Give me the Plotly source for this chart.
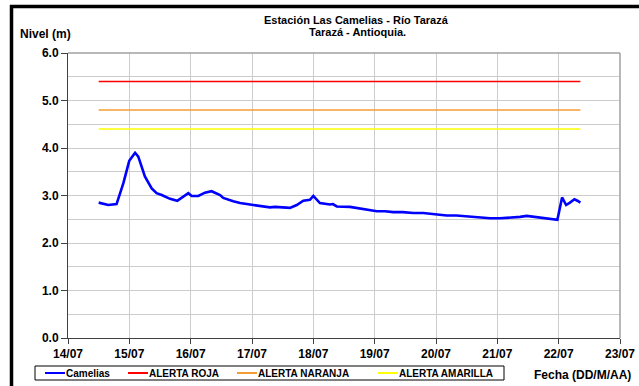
import plotly.graph_objects as go

# Water level readings, station Las Camelias (Río Tarazá)
times = [
    "2010-07-14 12:00", "2010-07-14 15:45", "2010-07-14 19:00", "2010-07-14 21:40",
    "2010-07-14 23:58", "2010-07-15 02:15", "2010-07-15 03:30", "2010-07-15 06:05",
    "2010-07-15 08:45", "2010-07-15 10:40", "2010-07-15 12:40", "2010-07-15 15:55",
    "2010-07-15 18:45", "2010-07-15 21:05", "2010-07-15 23:05", "2010-07-16 00:25",
    "2010-07-16 03:00", "2010-07-16 05:35", "2010-07-16 08:10", "2010-07-16 11:30",
    "2010-07-16 12:45", "2010-07-16 16:40", "2010-07-16 19:20", "2010-07-17 00:30",
    "2010-07-17 07:00", "2010-07-17 09:00", "2010-07-17 11:00", "2010-07-17 14:50",
    "2010-07-17 17:30", "2010-07-17 20:05", "2010-07-17 22:40", "2010-07-18 00:00",
    "2010-07-18 02:35", "2010-07-18 06:30", "2010-07-18 07:40", "2010-07-18 09:10",
    "2010-07-18 14:20", "2010-07-18 19:35", "2010-07-19 00:50", "2010-07-19 04:00",
    "2010-07-19 07:20", "2010-07-19 11:00", "2010-07-19 15:05", "2010-07-19 19:00",
    "2010-07-19 23:00", "2010-07-20 02:50", "2010-07-20 04:10", "2010-07-20 08:00",
    "2010-07-20 12:00", "2010-07-20 14:30", "2010-07-20 17:15", "2010-07-20 21:10",
    "2010-07-21 01:00", "2010-07-21 06:15", "2010-07-21 08:55", "2010-07-21 11:30",
    "2010-07-21 14:05", "2010-07-21 18:00", "2010-07-21 23:30", "2010-07-22 01:20",
    "2010-07-22 02:55", "2010-07-22 04:25", "2010-07-22 06:10", "2010-07-22 07:20",
    "2010-07-22 08:30",
]
nivel = [
    2.85, 2.80, 2.82, 3.26,
    3.73, 3.90, 3.82, 3.40,
    3.15, 3.05, 3.01, 2.93,
    2.89, 2.97, 3.05, 2.99,
    2.99, 3.06, 3.09, 3.01,
    2.95, 2.88, 2.84, 2.80,
    2.75, 2.76, 2.75, 2.74,
    2.80, 2.89, 2.91, 2.99,
    2.84, 2.81, 2.82, 2.77,
    2.76, 2.71, 2.67, 2.67,
    2.65, 2.65, 2.63, 2.63,
    2.61, 2.60, 2.58, 2.58,
    2.56, 2.56, 2.54, 2.52,
    2.52, 2.53, 2.55, 2.57,
    2.55, 2.52, 2.49, 2.96,
    2.80, 2.85, 2.92, 2.89,
    2.85,
]
series_name = "Camelias"
series_color = "#0000ff"

# Alert thresholds (m)
alert_span = ["2010-07-14 12:00", "2010-07-22 08:30"]
alert_names = ["ALERTA ROJA", "ALERTA NARANJA", "ALERTA AMARILLA"]
alert_levels = [5.4, 4.8, 4.4]
alert_colors = ["#ff0000", "#f39c34", "#ffff00"]

x_range = ["2010-07-14", "2010-07-23"]
y_range = [0, 6]

FONT = "Liberation Sans, Arial, sans-serif"

fig = go.Figure()
fig.add_trace(go.Scatter(
    x=times, y=nivel, mode="lines", name=series_name,
    line=dict(color=series_color, width=2.6),
))
for name, lvl, col in zip(alert_names, alert_levels, alert_colors):
    fig.add_trace(go.Scatter(
        x=alert_span, y=[lvl, lvl], mode="lines", name=name,
        line=dict(color=col, width=1.6),
    ))

# plot area: 68..620 px horizontally, 53..338 px vertically
L, R, T, B = 68, 19, 53, 48
W, H = 639, 386
pw, ph = W - L - R, H - T - B


def px(xp):
    return (xp - L) / pw


def py(yp):
    return (H - B - yp) / ph


tick_font = dict(family=FONT, size=12, color="#000000", weight="bold")
bold = lambda s: dict(family=FONT, size=s, color="#000000", weight="bold")

shapes = [
    # light frame on top and right of the plot area
    dict(type="line", xref="paper", yref="paper", x0=0, x1=1, y0=1, y1=1,
         line=dict(color="#a0a0a0", width=1.5)),
    dict(type="line", xref="paper", yref="paper", x0=1, x1=1, y0=0, y1=1,
         line=dict(color="#a0a0a0", width=1.5)),
    # heavy chart border (top and left)
    dict(type="line", xref="paper", yref="paper", x0=px(10), x1=px(645),
         y0=py(6.5), y1=py(6.5), line=dict(color="#000000", width=3.5)),
    dict(type="line", xref="paper", yref="paper", x0=px(11.5), x1=px(11.5),
         y0=py(5), y1=py(395), line=dict(color="#000000", width=3.5)),
    # legend box
    dict(type="rect", xref="paper", yref="paper", x0=px(35), x1=px(504),
         y0=py(366), y1=py(380), line=dict(color="#000000", width=1),
         fillcolor="#ffffff"),
]

annotations = [
    dict(text="Estación Las Camelias - Río Tarazá", xref="paper", yref="paper",
         x=px(356), y=py(20), xanchor="center", yanchor="middle", showarrow=False,
         font=bold(11)),
    dict(text="Tarazá - Antioquia.", xref="paper", yref="paper",
         x=px(357), y=py(32), xanchor="center", yanchor="middle", showarrow=False,
         font=bold(11)),
    dict(text="Nivel (m)", xref="paper", yref="paper",
         x=px(18), y=py(34), xanchor="left", yanchor="middle", showarrow=False,
         font=bold(12)),
    dict(text="Fecha (DD/M/AA)", xref="paper", yref="paper",
         x=px(532), y=py(375), xanchor="left", yanchor="middle", showarrow=False,
         font=bold(12)),
]

# legend row: a short line sample followed by the series name
legend_names = [series_name] + alert_names
legend_colors = [series_color] + alert_colors
legend_x = [45, 128, 237, 378]
for name, col, x0 in zip(legend_names, legend_colors, legend_x):
    shapes.append(dict(type="line", xref="paper", yref="paper",
                       x0=px(x0), x1=px(x0 + 20), y0=py(373), y1=py(373),
                       line=dict(color=col, width=2)))
    annotations.append(dict(text=name, xref="paper", yref="paper",
                            x=px(x0 + 19), y=py(373.5), xanchor="left",
                            yanchor="middle", showarrow=False, font=bold(10)))

fig.update_layout(
    width=W, height=H,
    margin=dict(l=L, r=R, t=T, b=B, autoexpand=False),
    paper_bgcolor="#ffffff", plot_bgcolor="#ffffff",
    showlegend=False,
    xaxis=dict(
        type="date", range=x_range, dtick=86400000, tickformat="%d/%m",
        ticks="outside", ticklen=5, tickcolor="#404040",
        showline=True, linecolor="#404040", linewidth=1,
        showgrid=True, gridcolor="#cccccc", gridwidth=1,
        tickfont=tick_font, fixedrange=True,
    ),
    yaxis=dict(
        range=y_range, dtick=1, tickformat=".1f",
        ticks="outside", ticklen=6, tickcolor="#404040",
        showline=True, linecolor="#404040", linewidth=1,
        showgrid=True, gridcolor="#cccccc", gridwidth=1, zeroline=False,
        minor=dict(dtick=0.5, showgrid=True, gridcolor="#cccccc", gridwidth=1),
        tickfont=tick_font, fixedrange=True,
    ),
    shapes=shapes,
    annotations=annotations,
)

fig.write_html("out.html")
